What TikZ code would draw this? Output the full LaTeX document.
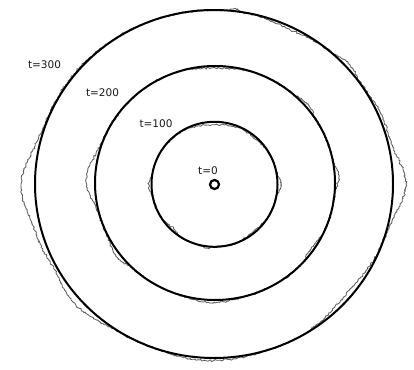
\documentclass[tikz,border=0pt]{standalone}
\usepackage{fontspec}
\setmainfont{DejaVu Sans}
\usetikzlibrary{decorations.pathmorphing}
\begin{document}
\begin{tikzpicture}[x=1pt,y=-1pt,
  declare function={g(\ta,\tb,\tc,\td)=\td*exp(-((mod(\ta-\tb+540,360)-180)/\tc)^2);},
  ring/.style={line width=2pt, draw=black},
  noisy/.style={line width=0.85pt, draw=black!62, line join=round, decorate,
    decoration={random steps, segment length=1.4pt, amplitude=1.1pt}},
  lbl/.style={font=\fontsize{10.5}{12}\selectfont, inner sep=0pt, text=black!90}]
\pgfmathsetseed{4711}
\useasboundingbox (0,0) rectangle (414,369);
\fill[white] (0,0) rectangle (414,369);

% noisy measured fronts
\draw[noisy] plot[domain=0:360, samples=241, variable=\ang]
  ({214+(179+g(\ang,181,12,14)+g(\ang,200,8,4)+g(\ang,221,11,7)+g(\ang,0,10,13)+g(\ang,22,8,3)+g(\ang,42,5,4)+g(\ang,65,9,-3)+g(\ang,320,12,-5)+g(\ang,268,14,2.5)+g(\ang,140,20,1.2)+g(\ang,83,1.5,3))*cos(\ang)},
   {184-(174+g(\ang,181,12,14)+g(\ang,200,8,4)+g(\ang,221,11,7)+g(\ang,0,10,13)+g(\ang,22,8,3)+g(\ang,42,5,4)+g(\ang,65,9,-3)+g(\ang,320,12,-5)+g(\ang,268,14,2.5)+g(\ang,140,20,1.2)+g(\ang,83,1.5,3))*sin(\ang)}) -- cycle;
\draw[noisy] plot[domain=0:360, samples=181, variable=\ang]
  ({215+(120+g(\ang,178,11,9)+g(\ang,3,5,4)+g(\ang,41,5,3)+g(\ang,325,6,-3)+g(\ang,268,10,3)+g(\ang,217,7,4)+g(\ang,90,12,-2))*cos(\ang)},
   {183-(117+g(\ang,178,11,9)+g(\ang,3,5,4)+g(\ang,41,5,3)+g(\ang,325,6,-3)+g(\ang,268,10,3)+g(\ang,217,7,4)+g(\ang,90,12,-2))*sin(\ang)}) -- cycle;
\draw[noisy] plot[domain=0:360, samples=121, variable=\ang]
  ({214.5+(63+g(\ang,90,22,-3)+g(\ang,182,7,3)+g(\ang,0,7,4)+g(\ang,50,8,-2)+g(\ang,225,8,-2.5)+g(\ang,310,10,-2)+g(\ang,262,4,2))*cos(\ang)},
   {184.3-(62.5+g(\ang,90,22,-3)+g(\ang,182,7,3)+g(\ang,0,7,4)+g(\ang,50,8,-2)+g(\ang,225,8,-2.5)+g(\ang,310,10,-2)+g(\ang,262,4,2))*sin(\ang)}) -- cycle;

% model fronts
\draw[ring] (214,184) ellipse [x radius=179, y radius=174];
\draw[ring] (215,183) ellipse [x radius=120, y radius=117];
\draw[ring] (214.5,184.3) ellipse [x radius=63, y radius=62.5];
\node[circle, draw=black, line width=2.2pt, minimum size=9pt, inner sep=0pt] (c0) at (214.5,184.5) {};

% labels
\node[lbl] (l300) at (44.5,65) {t=300};
\node[lbl] (l200) at (102.5,93) {t=200};
\node[lbl] (l100) at (156,124) {t=100};
\node[lbl] (l0) at (208,171) {t=0};
\end{tikzpicture}
\end{document}
